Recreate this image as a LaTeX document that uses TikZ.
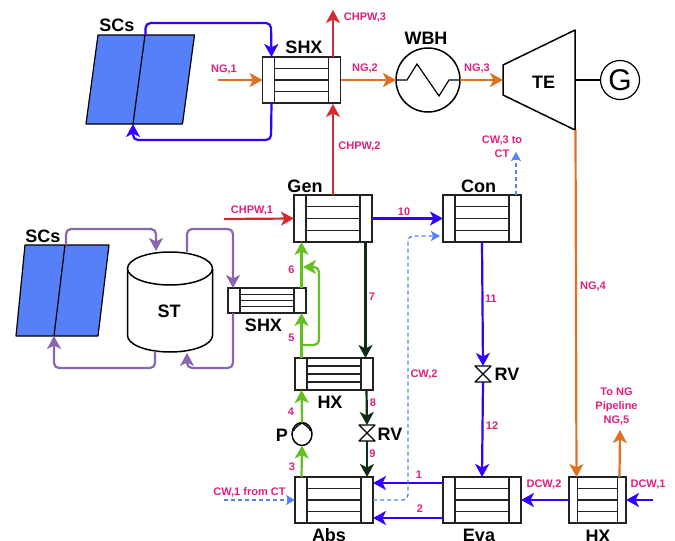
\documentclass[tikz,border=0pt]{standalone}
\usepackage{fontspec}
\setmainfont{Liberation Sans}
\usetikzlibrary{arrows.meta,calc,shapes.geometric}
\definecolor{cblue}{HTML}{3300FF}
\definecolor{cpanel}{HTML}{5580F7}
\definecolor{cred}{HTML}{D42A2E}
\definecolor{corange}{HTML}{E0701E}
\definecolor{cdash}{HTML}{5580F7}
\definecolor{cdark}{HTML}{0F2D14}
\definecolor{cgreen}{HTML}{66BF22}
\definecolor{cpurple}{HTML}{8A66AE}
\definecolor{cpink}{HTML}{E0207F}
\definecolor{cline}{HTML}{222222}
\tikzset{
 x=1pt,y=-1pt,
 flow/.style={line width=2.2pt,rounded corners=5pt,-{Stealth[length=13pt,width=14pt,inset=3.5pt]}},
 flowb/.style={flow,color=cblue},
 flowr/.style={flow,color=cred},
 flowo/.style={flow,color=corange},
 flowd/.style={flow,color=cdark},
 flowg/.style={flow,color=cgreen},
 flowp/.style={flow,color=cpurple},
 flowc/.style={line width=1.4pt,rounded corners=5pt,dash pattern=on 4pt off 3pt,color=cdash,-{Stealth[length=9pt,width=10pt,inset=2pt]}},
 hxbody/.style={draw=cline,line width=1.7pt,fill=white,inner sep=0pt,outer sep=0pt},
 name label/.style={font=\bfseries\fontsize{18}{20}\selectfont,inner sep=0pt,text=black},
 pk/.style={font=\bfseries\fontsize{11}{14}\selectfont,inner sep=0pt,text=cpink,align=center},
 panel/.style={draw=black,line width=1.2pt,fill=cpanel,line join=round},
 part/.style={draw=black,line width=1.5pt,line join=round},
}
% name, centre x, centre y, width, height, inset
\newcommand{\hxunit}[6]{%
 \node[hxbody,minimum width=#4pt,minimum height=#5pt] (#1) at (#2,#3) {};
 \draw[cline,line width=1.6pt] ([xshift=#6pt]#1.north west) -- ([xshift=#6pt]#1.south west)
   ([xshift=-#6pt]#1.north east) -- ([xshift=-#6pt]#1.south east);
 \foreach \f in {0.25,0.5,0.75}{
  \draw[cline,line width=1.4pt] ($(#1.north west)!\f!(#1.south west)+(#6,0)$) -- ($(#1.north east)!\f!(#1.south east)-(#6,0)$);
 }%
}
\begin{document}
\begin{tikzpicture}
\useasboundingbox (0,0) rectangle (675,541);
\fill[white] (0,0) rectangle (675,541);

% heat exchangers
\hxunit{shx}{301.5}{80}{78}{46}{12}
\hxunit{gen}{333}{218.5}{78}{47}{12}
\hxunit{con}{482}{218.5}{78}{47}{12}
\hxunit{sshx}{267}{300.5}{78}{25}{12}
\hxunit{hx}{334}{374}{78}{32}{12}
\hxunit{abs}{334}{500}{78}{46}{12}
\hxunit{eva}{482}{500}{78}{46}{12}
\hxunit{hxb}{597.5}{500}{57}{46}{8.5}

% solar collectors
\path[panel] (98,35) -- (194.5,35) -- (182.5,124) -- (86,124) -- cycle;
\draw[black,line width=1.2pt] (145,35) -- (133,124);
\path[panel] (25,245) -- (109,245) -- (98,336) -- (16,336) -- cycle;
\draw[black,line width=1.2pt] (65,245) -- (54,336);
\coordinate (scA) at (145.5,35);
\coordinate (scB) at (133,124);
\coordinate (scC) at (66,245);
\coordinate (scD) at (54,336);

% storage tank
\draw[part,fill=white] (127.5,268.5) -- (127.5,335.5) arc[start angle=180,end angle=360,x radius=42.5pt,y radius=16.5pt] -- (212.5,268.5);
\draw[part,fill=white] (170,268.5) ellipse[x radius=42.5pt,y radius=16.5pt];
\node[name label] (st) at (169,311) {ST};
\coordinate (stTa) at (156,251);
\coordinate (stTb) at (187,252);
\coordinate (stBa) at (155,351);
\coordinate (stBb) at (187,353);

% wet bulb heater
\node[part,circle,fill=white,minimum size=64pt,inner sep=0pt,outer sep=0pt] (wbh) at (428,80) {};
\draw[black,line width=1.2pt] (wbh.west) -- (407,80) -- (417,64) -- (439,96) -- (449,80) -- (wbh.east);

% turbine
\draw[part] (503,65) -- (575,30) -- (575,130) -- (503,95) -- cycle;
\node[name label] (te) at (543.5,82) {TE};
\coordinate (teW) at (503,80);
\coordinate (teE) at (575,80);
\coordinate (teS) at (575.5,130);
\node[draw=black,line width=1.2pt,circle,minimum size=39pt,inner sep=0pt,outer sep=0pt,font=\fontsize{30}{30}\selectfont] (g) at (620,80) {G};
\draw[black,line width=1.3pt] (teE) -- (g.west);

% valves
\node[minimum size=16pt,inner sep=0pt,outer sep=0pt] (rva) at (367,433) {};
\node[minimum size=16pt,inner sep=0pt,outer sep=0pt] (rvb) at (483,374) {};
\foreach \v in {rva,rvb}{
 \draw[part,line width=1.3pt] (\v.north west) -- (\v.north east) -- (\v.south west) -- (\v.south east) -- cycle;
}

% pump
\node[part,ellipse,fill=white,minimum width=20pt,minimum height=23pt,inner sep=0pt,outer sep=0pt] (pump) at (302,434) {};
\draw[black,line width=1.2pt] (293.5,431) .. controls (295,427) and (299,425) .. (302,423);
\draw[black,line width=1.2pt] (302,423) .. controls (305,425) and (309,427) .. (310.5,431);

% flows: solar loop top
\draw[flowb] (scA) -- (145.5,23) -- (271,23) -- ([xshift=9pt]shx.north west);
\draw[flowb] ([xshift=9pt]shx.south west) -- (271,140) -- (133,140) -- (scB);
% natural gas
\coordinate (ngin) at (218,80);
\draw[flowo] (ngin) -- (shx.west);
\draw[flowo] (shx.east) -- (wbh.west);
\draw[flowo] (wbh.east) -- (teW);
\draw[flowo] (teS) -- ([xshift=7.5pt]hxb.north west);
\coordinate (ngout) at (620,430);
\draw[flowo] ([xshift=-6.5pt]hxb.north east) -- (ngout);
% hot water
\coordinate (chpwout) at (333,10);
\coordinate (chpwin) at (224,219);
\draw[flowr] (gen.north) -- (333,104);
\draw[flowr] (333,57) -- (chpwout);
\draw[flowr] (chpwin) -- (gen.west);
% refrigerant etc.
\draw[flowb] (gen.east) -- (con.west);
\draw[flowb] (con.south) -- (rvb.north);
\draw[flowb] (rvb.south) -- (eva.north);
\draw[flowb] ([yshift=17pt]eva.west) -- ([yshift=17pt]abs.east);
\draw[flowb] ([yshift=-18pt]eva.west) -- ([yshift=-18pt]abs.east);
\draw[flowb] (hxb.west) -- (eva.east);
\coordinate (dcwin) at (653,500);
\draw[flowb] (dcwin) -- (hxb.east);
% cooling water
\coordinate (cwin) at (224,500);
\coordinate (cwout) at (516,152);
\draw[flowc] (cwin) -- (abs.west);
\draw[flowc] (abs.east) -- (408,500) -- (408,236) -- ([xshift=-3pt,yshift=-17.5pt]con.west);
\draw[flowc] ([xshift=-5pt]con.north east) -- (cwout);
% dark solution
\draw[flowd] ([xshift=-6.5pt]gen.south east) -- (365.5,358);
\draw[flowd] (366.5,390) -- (rva.north);
\draw[flowd] (rva.south) -- (367,477);
% green solution
\draw[flowg] ([xshift=6.5pt]abs.north west) -- (pump.south);
\draw[flowg] (pump.north) -- ([xshift=6.5pt]hx.south west);
\draw[flowg] ([xshift=6.5pt]hx.north west) -- ([xshift=73.5pt]sshx.south west);
\draw[flowg] (301.5,345) -- (319,345) -- (319,267) -- (303,267);
\draw[flowg] ([xshift=73.5pt]sshx.north west) -- ([xshift=7.5pt]gen.south west);
% purple loop
\draw[flowp] (scC) -- (66,229) -- (156,229) -- (stTa);
\draw[flowp] (stTb) -- (187,229) -- (233,229) -- ([xshift=5pt]sshx.north west);
\draw[flowp] ([xshift=5pt]sshx.south west) -- (233,368) -- (187,368) -- (stBb);
\draw[flowp] (stBa) -- (155,368) -- (54,368) -- (scD);

% component names
\node[name label] (n1) at (117,25) {SCs};
\node[name label] (n2) at (304,47) {SHX};
\node[name label] (n3) at (426,38) {WBH};
\node[name label] (n4) at (305,186) {Gen};
\node[name label] (n5) at (478.5,186) {Con};
\node[name label] (n6) at (43,236) {SCs};
\node[name label] (n7) at (263.5,325) {SHX};
\node[name label] (n8) at (330,402) {HX};
\node[name label] (n9) at (282,435) {P};
\node[name label] (n10) at (390,434) {RV};
\node[name label] (n11) at (507,374) {RV};
\node[name label] (n12) at (329,535) {Abs};
\node[name label] (n13) at (479,535) {Eva};
\node[name label] (n14) at (598,536) {HX};

% stream labels
\node[pk] (t1) at (224,70) {NG,1};
\node[pk] (t2) at (365,69) {NG,2};
\node[pk] (t3) at (477,69) {NG,3};
\node[pk] (t4) at (365,18) {CHPW,3};
\node[pk] (t5) at (359.5,147) {CHPW,2};
\node[pk] (t6) at (252,211) {CHPW,1};
\node[pk] (t7) at (502,147) {CW,3 to\\CT};
\node[pk] (t8) at (404,212) {10};
\node[pk] (t9) at (491,299) {11};
\node[pk] (t10) at (492,426) {12};
\node[pk] (t11) at (372,297) {7};
\node[pk] (t12) at (291.5,270) {6};
\node[pk] (t13) at (291.5,338) {5};
\node[pk] (t14) at (291,412) {4};
\node[pk] (t15) at (292,467) {3};
\node[pk] (t16) at (373,403) {8};
\node[pk] (t17) at (372.5,454) {9};
\node[pk] (t18) at (419,475) {1};
\node[pk] (t19) at (420,509) {2};
\node[pk] (t20) at (424,375) {CW,2};
\node[pk] (t21) at (249.5,492) {CW,1 from CT};
\node[pk] (t22) at (544,485) {DCW,2};
\node[pk] (t23) at (648,485) {DCW,1};
\node[pk] (t24) at (616.5,407) {To NG\\Pipeline\\NG,5};
\node[pk] (t25) at (593,287) {NG,4};
\end{tikzpicture}
\end{document}
